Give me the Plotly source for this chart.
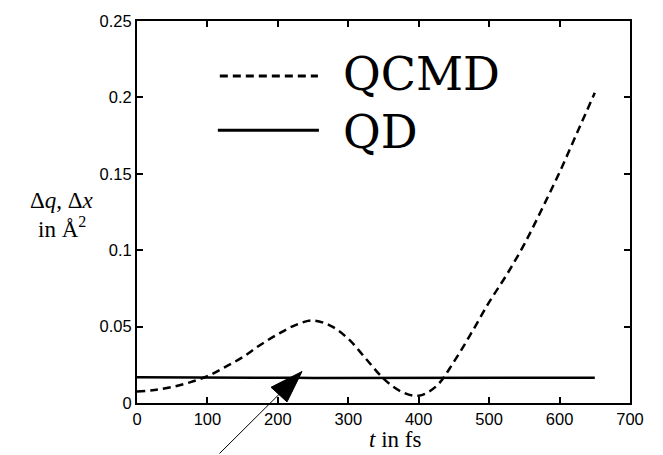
import plotly.graph_objects as go

# ---- data ----
t_fs = [0, 25, 50, 75, 100, 125, 150, 175, 200, 225, 250, 275, 300, 325, 350,
        375, 400, 425, 450, 475, 500, 525, 550, 575, 600, 625, 650]
qcmd = [0.0075, 0.0085, 0.0105, 0.0135, 0.0175, 0.0235, 0.030, 0.038, 0.045,
        0.051, 0.054, 0.0505, 0.042, 0.029, 0.016, 0.0075, 0.0048, 0.011, 0.027,
        0.046, 0.066, 0.084, 0.104, 0.127, 0.151, 0.177, 0.203]
qd = [0.0169, 0.0169, 0.0168, 0.0168, 0.0167, 0.0167, 0.0166, 0.0166, 0.0165,
      0.0165, 0.0164, 0.0164, 0.0163, 0.0163, 0.0162, 0.0162, 0.0162, 0.0163,
      0.0163, 0.0164, 0.0164, 0.0164, 0.0165, 0.0165, 0.0165, 0.0165, 0.0165]
x_ticks = [0, 100, 200, 300, 400, 500, 600, 700]
y_ticks = [0, 0.05, 0.1, 0.15, 0.2, 0.25]
y_tick_text = ["0", "0.05", "0.1", "0.15", "0.2", "0.25"]
series_names = ["QCMD", "QD"]

fig = go.Figure()
fig.add_trace(go.Scatter(x=t_fs, y=qcmd, mode="lines", name=series_names[0],
                         line=dict(color="black", width=2.5, dash="8px,5px", shape="spline"),
                         showlegend=False, hoverinfo="skip"))
fig.add_trace(go.Scatter(x=t_fs, y=qd, mode="lines", name=series_names[1],
                         line=dict(color="black", width=2.5),
                         showlegend=False, hoverinfo="skip"))

axis_common = dict(showgrid=False, zeroline=False, showline=True, linecolor="black",
                   linewidth=2, mirror="ticks", ticks="inside", ticklen=6,
                   tickwidth=1.5, tickcolor="black",
                   tickfont=dict(family="Liberation Sans", size=16.5, color="black"))

fig.update_xaxes(range=[0, 700], tickvals=x_ticks, ticktext=[str(v) for v in x_ticks],
                 **axis_common)
fig.update_yaxes(range=[0, 0.25], tickvals=y_ticks, ticktext=y_tick_text, **axis_common)

serif = "Liberation Serif"
annotations = [
    dict(xref="paper", yref="paper", x=-0.152, y=0.531, xanchor="center", yanchor="middle",
         text="Δ<i>q</i>, Δ<i>x</i>",
         showarrow=False, font=dict(family=serif, size=23, color="black")),
    dict(xref="paper", yref="paper", x=-0.152, y=0.459, xanchor="center", yanchor="middle",
         text="in Å<sup>2</sup>",
         showarrow=False, font=dict(family=serif, size=23, color="black")),
    dict(xref="paper", yref="paper", x=0.523, y=-0.095, xanchor="center", yanchor="middle",
         text="<i>t</i> in fs",
         showarrow=False, font=dict(family=serif, size=23, color="black")),
    dict(xref="paper", yref="paper", x=0.414, y=0.862, xanchor="left", yanchor="middle",
         text=series_names[0],
         showarrow=False, font=dict(family="DejaVu Serif", size=46, color="black")),
    dict(xref="paper", yref="paper", x=0.414, y=0.709, xanchor="left", yanchor="middle",
         text=series_names[1],
         showarrow=False, font=dict(family="DejaVu Serif", size=46, color="black")),
    # pointer arrow (thin line)
    dict(x=234.3, y=0.0206, xref="x", yref="y", text="", showarrow=True,
         arrowhead=0, arrowwidth=1, arrowcolor="black", ax=-84, ay=84),
]

shapes = [
    dict(type="line", xref="paper", yref="paper", x0=0.168, x1=0.367, y0=0.856, y1=0.856,
         line=dict(color="black", width=3, dash="8px,5px")),
    dict(type="line", xref="paper", yref="paper", x0=0.164, x1=0.369, y0=0.714, y1=0.714,
         line=dict(color="black", width=3)),
    dict(type="path", xref="x", yref="y",
         path="M 234.3,0.0206 L 190.3,0.0103 L 213.0,0.0007 Z",
         fillcolor="black", line=dict(color="black", width=1)),
]

fig.update_layout(width=663, height=455, margin=dict(l=137, r=33, t=15, b=52),
                  plot_bgcolor="white", paper_bgcolor="white",
                  annotations=annotations, shapes=shapes, showlegend=False)

fig.write_html("out.html", config={"displayModeBar": False},
               post_script="document.body.style.margin='0';document.body.style.overflow='hidden';")
